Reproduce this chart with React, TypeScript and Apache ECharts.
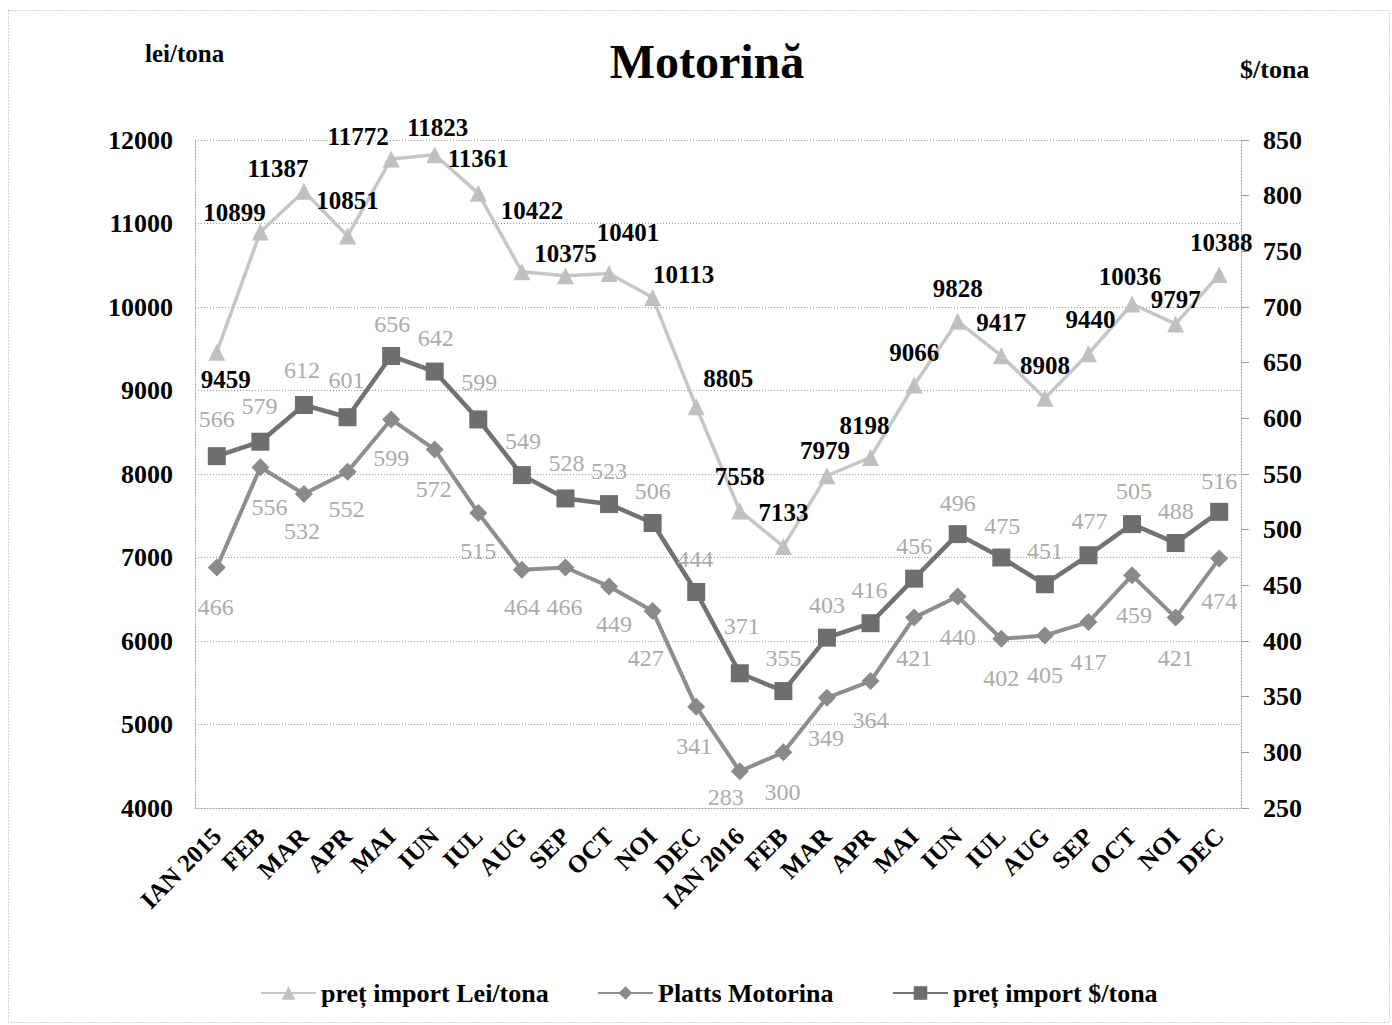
import React, { useEffect, useRef } from 'react';
import * as echarts from 'echarts';

const categories = [
  'IAN 2015', 'FEB', 'MAR', 'APR', 'MAI', 'IUN', 'IUL', 'AUG', 'SEP', 'OCT', 'NOI', 'DEC',
  'IAN 2016', 'FEB', 'MAR', 'APR', 'MAI', 'IUN', 'IUL', 'AUG', 'SEP', 'OCT', 'NOI', 'DEC',
];

const leiValues = [
  9459, 10899, 11387, 10851, 11772, 11823, 11361, 10422, 10375, 10401, 10113, 8805,
  7558, 7133, 7979, 8198, 9066, 9828, 9417, 8908, 9440, 10036, 9797, 10388,
];

const plattsValues = [
  466, 556, 532, 552, 599, 572, 515, 464, 466, 449, 427, 341,
  283, 300, 349, 364, 421, 440, 402, 405, 417, 459, 421, 474,
];

const usdValues = [
  566, 579, 612, 601, 656, 642, 599, 549, 528, 523, 506, 444,
  371, 355, 403, 416, 456, 496, 475, 451, 477, 505, 488, 516,
];

const seriesNames = ['preț import Lei/tona', 'Platts Motorina', 'preț import $/tona'];

const leftAxis = { min: 4000, max: 12000, interval: 1000 };
const rightAxis = { min: 250, max: 850, interval: 50 };

// label placement (style only)
const leiLabelOffsets = [
  [9, 27], [-26, -19], [-26, -23], [0, -35], [-33, -23], [3, -27], [0, -35], [10, -61],
  [0, -22], [19, -41], [31, -23], [32, -28], [0, -34], [0, -34], [-2, -25], [-6, -32],
  [0, -32], [0, -33], [0, -33], [0, -33], [2, -34], [-2, -27], [0, -24], [2, -32],
];
const plattsLabelOffsets = [
  [-1, 39], [9, 40], [-2, 37], [-1, 37], [0, 39], [-1, 39], [0, 38], [0, 37],
  [-1, 39], [5, 38], [-7, 47], [-2, 39], [-14, 26], [-1, 40], [-1, 40], [0, 39],
  [0, 40], [0, 41], [0, 39], [0, 40], [0, 40], [2, 40], [0, 40], [0, 42],
];
const usdLabelOffsets = [
  [0, -37], [-1, -36], [-2, -35], [-1, -37], [1, -32], [1, -34], [1, -37], [1, -34],
  [1, -35], [0, -33], [0, -32], [-1, -33], [2, -47], [0, -33], [0, -33], [-1, -33],
  [0, -33], [0, -31], [1, -32], [0, -33], [1, -34], [2, -33], [0, -32], [0, -31],
];

const FONT = "'Liberation Serif', 'Times New Roman', serif";

function build(values: number[], offsets: number[][]) {
  return values.map((v, i) => ({ value: v, label: { offset: offsets[i] } }));
}

export default function App() {
  const ref = useRef<HTMLDivElement>(null);

  useEffect(() => {
    if (!ref.current) return;
    const chart = echarts.init(ref.current, undefined, { renderer: 'svg' });
    const gridLine = { color: '#9a9a9a', width: 1, type: [1, 2] as any };

    chart.setOption({
      animation: false,
      backgroundColor: '#ffffff',
      textStyle: { fontFamily: FONT },
      graphic: [
        {
          type: 'rect',
          shape: { x: 8.5, y: 10.5, width: 1381, height: 1012 },
          style: { fill: 'none', stroke: '#aaaaaa', lineWidth: 1, lineDash: [1, 2] },
          silent: true,
        },
        {
          type: 'text',
          x: 707,
          y: 61,
          style: {
            text: 'Motorină',
            font: `bold 48px ${FONT}`,
            fill: '#000',
            textAlign: 'center',
            textVerticalAlign: 'middle',
          },
        },
        {
          type: 'text',
          x: 145,
          y: 53,
          style: {
            text: 'lei/tona',
            font: `bold 25px ${FONT}`,
            fill: '#000',
            textAlign: 'left',
            textVerticalAlign: 'middle',
          },
        },
        {
          type: 'text',
          x: 1240,
          y: 69,
          style: {
            text: '$/tona',
            font: `bold 26px ${FONT}`,
            fill: '#000',
            textAlign: 'left',
            textVerticalAlign: 'middle',
          },
        },
      ],
      legend: [
        { left: 255, name: seriesNames[0] },
        { left: 592, name: seriesNames[1] },
        { left: 887, name: seriesNames[2] },
      ].map((l) => ({
        data: [l.name],
        left: l.left,
        top: 975,
        itemWidth: 55,
        itemHeight: 17,
        textStyle: { fontFamily: FONT, fontWeight: 'bold', fontSize: 26, color: '#000' },
      })),
      grid: { left: 195, right: 151, top: 140, bottom: 217, containLabel: false, outerBoundsMode: 'none' },
      xAxis: {
        type: 'category',
        data: categories,
        boundaryGap: true,
        axisLine: { show: true, lineStyle: gridLine },
        axisTick: { show: false },
        axisLabel: {
          interval: 0,
          rotate: 45,
          margin: 24,
          fontFamily: FONT,
          fontWeight: 'bold',
          fontSize: 25,
          color: '#000',
        },
        splitLine: { show: false },
      },
      yAxis: [
        {
          type: 'value',
          min: leftAxis.min,
          max: leftAxis.max,
          interval: leftAxis.interval,
          axisLine: { show: true, lineStyle: gridLine },
          axisTick: { show: false },
          axisLabel: {
            margin: 22,
            fontFamily: FONT,
            fontWeight: 'bold',
            fontSize: 26,
            color: '#000',
            formatter: (v: number) => String(v),
          },
          splitLine: { show: true, lineStyle: gridLine },
        },
        {
          type: 'value',
          position: 'right',
          min: rightAxis.min,
          max: rightAxis.max,
          interval: rightAxis.interval,
          axisLine: { show: true, lineStyle: gridLine },
          axisTick: { show: true, inside: false, length: 8, lineStyle: { color: '#9a9a9a', width: 1 } },
          axisLabel: {
            margin: 22,
            fontFamily: FONT,
            fontWeight: 'bold',
            fontSize: 26,
            color: '#000',
            formatter: (v: number) => String(v),
          },
          splitLine: { show: false },
        },
      ],
      series: [
        {
          name: seriesNames[0],
          type: 'line',
          yAxisIndex: 0,
          data: build(leiValues, leiLabelOffsets),
          symbol: 'triangle',
          symbolSize: 17,
          lineStyle: { color: '#c6c6c6', width: 3.5 },
          itemStyle: { color: '#c0c0c0' },
          z: 3,
          label: {
            show: true,
            position: 'inside',
            fontFamily: FONT,
            fontWeight: 'bold',
            fontSize: 25,
            color: '#000',
          },
        },
        {
          name: seriesNames[1],
          type: 'line',
          yAxisIndex: 1,
          data: build(plattsValues, plattsLabelOffsets),
          symbol: 'diamond',
          symbolSize: 18,
          lineStyle: { color: '#8e8e8e', width: 4 },
          itemStyle: { color: '#8a8a8a' },
          z: 2,
          label: {
            show: true,
            position: 'inside',
            fontFamily: FONT,
            fontSize: 24,
            color: '#ababab',
          },
        },
        {
          name: seriesNames[2],
          type: 'line',
          yAxisIndex: 1,
          data: build(usdValues, usdLabelOffsets),
          symbol: 'rect',
          symbolSize: 18,
          lineStyle: { color: '#727272', width: 4.5 },
          itemStyle: { color: '#6e6e6e' },
          z: 2,
          label: {
            show: true,
            position: 'inside',
            fontFamily: FONT,
            fontSize: 24,
            color: '#ababab',
          },
        },
      ],
    });

    return () => chart.dispose();
  }, []);

  return (
    <div
      ref={ref}
      style={{ position: 'fixed', left: 0, top: 0, width: 1392, height: 1025, background: '#fff' }}
    />
  );
}
